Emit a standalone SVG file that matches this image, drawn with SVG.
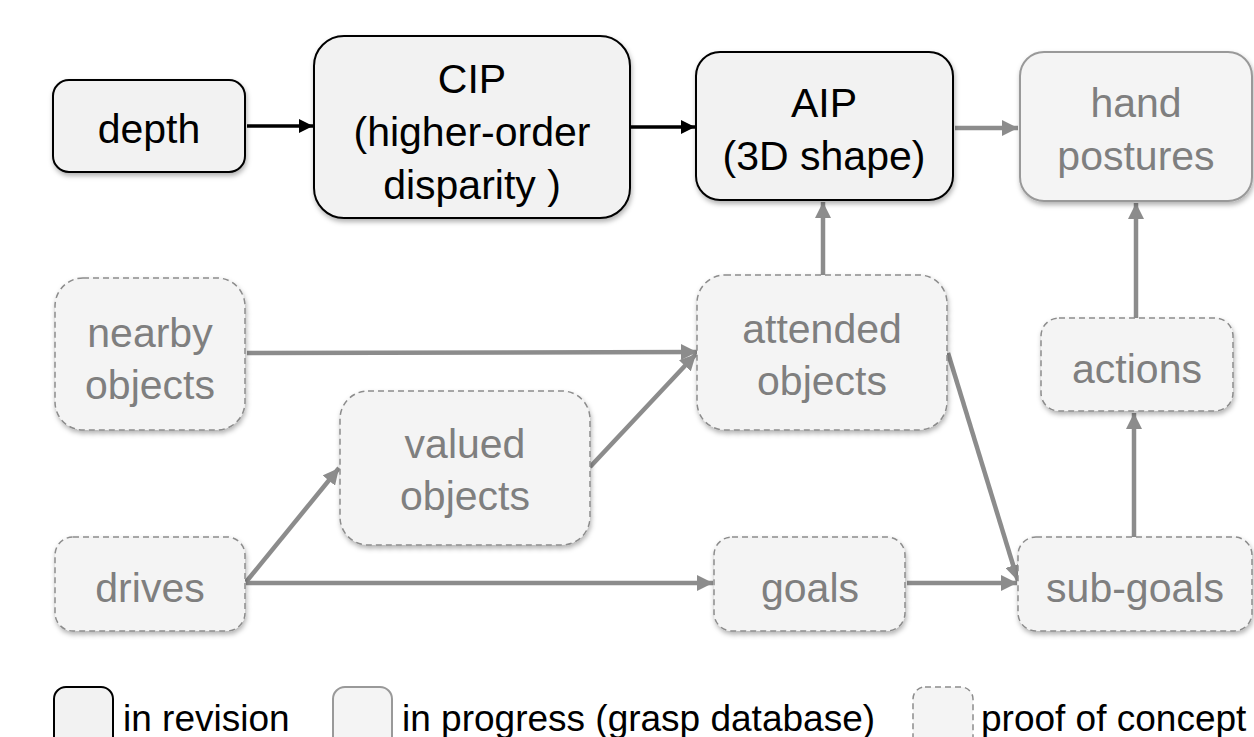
<svg xmlns="http://www.w3.org/2000/svg" width="1254" height="737" viewBox="0 0 1254 737">
<defs>
<filter id="sh" x="-10%" y="-10%" width="125%" height="130%">
<feDropShadow dx="1" dy="3" stdDeviation="2.5" flood-color="#000" flood-opacity="0.3"/>
</filter>
<marker id="ab" viewBox="0 0 10 10" refX="10" refY="5" markerWidth="4" markerHeight="4" orient="auto" markerUnits="strokeWidth">
<path d="M0,0 L10,5 L0,10 z" fill="#000"/>
</marker>
<marker id="ag" viewBox="0 0 10 10" refX="10" refY="5" markerWidth="3.6" markerHeight="3.6" orient="auto" markerUnits="strokeWidth">
<path d="M0,0 L10,5 L0,10 z" fill="#8c8c8c"/>
</marker>
</defs>
<style>
.rev{fill:#f2f2f2;stroke:#000;stroke-width:2}
.prog{fill:#f4f4f4;stroke:#999;stroke-width:2}
.poc{fill:#f4f4f4;stroke:#8c8c8c;stroke-width:1.5;stroke-dasharray:6 4}
text{font-family:"Liberation Sans",Arial,sans-serif;font-size:41px;text-anchor:middle}
.tb{fill:#000}
.tg{fill:#7f7f7f}
.lg{font-size:37px;text-anchor:start;fill:#000}
.cb{stroke:#000;stroke-width:3.5;fill:none;marker-end:url(#ab)}
.cg{stroke:#8c8c8c;stroke-width:4.5;fill:none;marker-end:url(#ag)}
</style>
<rect width="1254" height="737" fill="#fff"/>
<g id="connectors">
<line class="cb" x1="247" y1="126" x2="313" y2="126"/>
<line class="cb" x1="631" y1="127" x2="695" y2="127"/>
<line class="cg" x1="955" y1="128" x2="1018" y2="128"/>
<line class="cg" x1="823" y1="275" x2="823" y2="202"/>
<line class="cg" x1="1136" y1="318" x2="1136" y2="203"/>
<line class="cg" x1="1134" y1="537" x2="1134" y2="413"/>
<line class="cg" x1="247" y1="353" x2="697" y2="352"/>
<line class="cg" x1="590" y1="467" x2="696" y2="354"/>
<line class="cg" x1="246" y1="582" x2="339" y2="468"/>
<line class="cg" x1="246" y1="583" x2="713" y2="583"/>
<line class="cg" x1="907" y1="583" x2="1017" y2="583"/>
<line class="cg" x1="948" y1="353" x2="1018" y2="581"/>
</g>
<g id="depth">
<rect class="rev" filter="url(#sh)" x="53" y="80" width="192" height="92" rx="16"/>
<text class="tb" x="149" y="143">depth</text>
</g>
<g id="cip">
<rect class="rev" filter="url(#sh)" x="314" y="36" width="316" height="182" rx="30"/>
<text class="tb" x="472" y="93">CIP</text>
<text class="tb" x="472" y="146">(higher-order</text>
<text class="tb" x="472" y="199">disparity )</text>
</g>
<g id="aip">
<rect class="rev" filter="url(#sh)" x="696" y="52" width="257" height="148" rx="24"/>
<text class="tb" x="824" y="117">AIP</text>
<text class="tb" x="824" y="170">(3D shape)</text>
</g>
<g id="hand-postures">
<rect class="prog" filter="url(#sh)" x="1020" y="52" width="232" height="149" rx="24"/>
<text class="tg" x="1136" y="117">hand</text>
<text class="tg" x="1136" y="170">postures</text>
</g>
<g id="nearby-objects">
<rect class="poc" filter="url(#sh)" x="55" y="278" width="190" height="152" rx="28"/>
<text class="tg" x="150" y="347">nearby</text>
<text class="tg" x="150" y="399">objects</text>
</g>
<g id="valued-objects">
<rect class="poc" filter="url(#sh)" x="340" y="391" width="250" height="154" rx="28"/>
<text class="tg" x="465" y="458">valued</text>
<text class="tg" x="465" y="510">objects</text>
</g>
<g id="attended-objects">
<rect class="poc" filter="url(#sh)" x="697" y="275" width="250" height="155" rx="28"/>
<text class="tg" x="822" y="343">attended</text>
<text class="tg" x="822" y="395">objects</text>
</g>
<g id="actions">
<rect class="poc" filter="url(#sh)" x="1041" y="318" width="192" height="93" rx="18"/>
<text class="tg" x="1137" y="383">actions</text>
</g>
<g id="drives">
<rect class="poc" filter="url(#sh)" x="55" y="537" width="190" height="94" rx="18"/>
<text class="tg" x="150" y="602">drives</text>
</g>
<g id="goals">
<rect class="poc" filter="url(#sh)" x="714" y="537" width="191" height="94" rx="18"/>
<text class="tg" x="810" y="602">goals</text>
</g>
<g id="sub-goals">
<rect class="poc" filter="url(#sh)" x="1018" y="537" width="234" height="94" rx="18"/>
<text class="tg" x="1135" y="602">sub-goals</text>
</g>
<g id="legend">
<rect class="rev" x="54" y="687" width="59" height="70" rx="12"/>
<text class="lg" x="123" y="731">in revision</text>
<rect class="prog" x="333" y="687" width="59" height="70" rx="12"/>
<text class="lg" x="402" y="731">in progress (grasp database)</text>
<rect class="poc" x="913" y="687" width="60" height="70" rx="12"/>
<text class="lg" x="981" y="731">proof of concept</text>
</g>
</svg>
